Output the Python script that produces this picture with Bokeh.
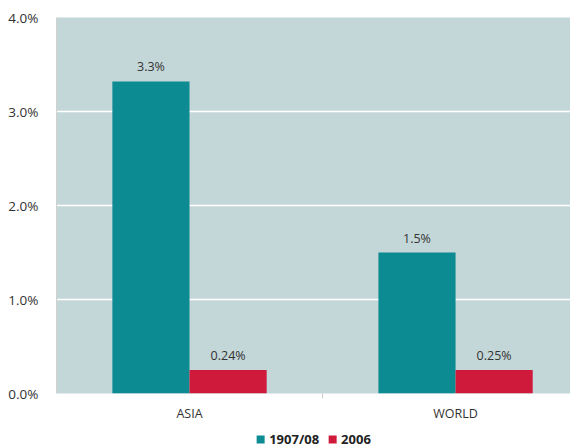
from bokeh.plotting import figure
from bokeh.layouts import column
from bokeh.models import ColumnDataSource, FixedTicker, Legend, LegendItem, Range1d, LabelSet
from bokeh.core.properties import value
from bokeh.embed import file_html
from bokeh.resources import INLINE

categories = ["ASIA", "WORLD"]
series_names = ["1907/08", "2006"]
values_1907 = [3.32, 1.5]
values_2006 = [0.25, 0.25]
labels_1907 = ["3.3%", "1.5%"]
labels_2006 = ["0.24%", "0.25%"]
y_ticks = [0, 1, 2, 3, 4]
y_tick_labels = ["0.0%", "1.0%", "2.0%", "3.0%", "4.0%"]

TEAL = "#0d8b93"
RED = "#cf1a3c"
BG = "#c4d7d8"
FONT = "Open Sans"

pos = [i + 0.5 for i in range(len(categories))]
bw = 0.29

src1 = ColumnDataSource(dict(x=[p - bw / 2 for p in pos], top=values_1907, lab=labels_1907))
src2 = ColumnDataSource(dict(x=[p + bw / 2 for p in pos], top=values_2006, lab=labels_2006))

p = figure(width=570, height=429, output_backend="svg", toolbar_location=None,
           x_range=Range1d(0, 1.932), y_range=Range1d(0, 4),
           min_border_left=56, min_border_right=0, min_border_top=17, min_border_bottom=36)
p.background_fill_color = BG
p.border_fill_color = "white"
p.outline_line_color = None

r1 = p.vbar(x="x", top="top", width=bw, source=src1, fill_color=TEAL, line_color=None)
r2 = p.vbar(x="x", top="top", width=bw, source=src2, fill_color=RED, line_color=None)

for s in (src1, src2):
    p.add_layout(LabelSet(x="x", y="top", text="lab", source=s, y_offset=6,
                          text_align="center", text_baseline="bottom",
                          text_font=value(FONT), text_font_size="12.5px", text_color="#333333"))

p.xgrid.grid_line_color = None
p.ygrid.grid_line_color = "white"
p.ygrid.grid_line_width = 1.5
p.ygrid.ticker = FixedTicker(ticks=y_ticks)

p.yaxis.ticker = FixedTicker(ticks=y_ticks)
p.yaxis.major_label_overrides = {t: l for t, l in zip(y_ticks, y_tick_labels)}
p.yaxis.major_tick_line_color = None
p.yaxis.minor_tick_line_color = None
p.yaxis.axis_line_color = "#d0d0d0"
p.yaxis.major_label_standoff = 12
p.yaxis.major_label_text_font = FONT
p.yaxis.major_label_text_font_size = "13.5px"
p.yaxis.major_label_text_color = "#333333"

p.xaxis.ticker = FixedTicker(ticks=pos, minor_ticks=[1.0])
p.xaxis.major_label_overrides = {t: c for t, c in zip(pos, categories)}
p.xaxis.major_tick_line_color = None
p.xaxis.minor_tick_line_color = "#c8c8c8"
p.xaxis.minor_tick_in = 0
p.xaxis.minor_tick_out = 5
p.xaxis.axis_line_color = None
p.xaxis.major_label_standoff = 5
p.xaxis.major_label_text_font = FONT
p.xaxis.major_label_text_font_size = "12.5px"
p.xaxis.major_label_text_color = "#333333"

# legend strip beneath the chart
p2 = figure(width=570, height=19, output_backend="svg", toolbar_location=None,
            x_range=Range1d(0, 1), y_range=Range1d(0, 1),
            x_axis_type=None, y_axis_type=None,
            min_border_left=56, min_border_right=0, min_border_top=0, min_border_bottom=0)
p2.outline_line_color = None
p2.xgrid.grid_line_color = None
p2.ygrid.grid_line_color = None
l1 = p2.vbar(x=[5], top=[values_1907[0]], width=0.1, fill_color=TEAL, line_color=None)
l2 = p2.vbar(x=[5], top=[values_2006[0]], width=0.1, fill_color=RED, line_color=None)

legend = Legend(items=[LegendItem(label=series_names[0], renderers=[l1]),
                       LegendItem(label=series_names[1], renderers=[l2])],
                orientation="horizontal", location="center",
                background_fill_alpha=0, border_line_color=None,
                glyph_width=10, glyph_height=10, label_standoff=4, spacing=8,
                padding=0, margin=0,
                label_text_font=FONT, label_text_font_style="bold",
                label_text_font_size="13px", label_text_color="#222222")
p2.add_layout(legend)

layout = column(p, p2, spacing=0)
open("out.html", "w").write(file_html(layout, INLINE))
